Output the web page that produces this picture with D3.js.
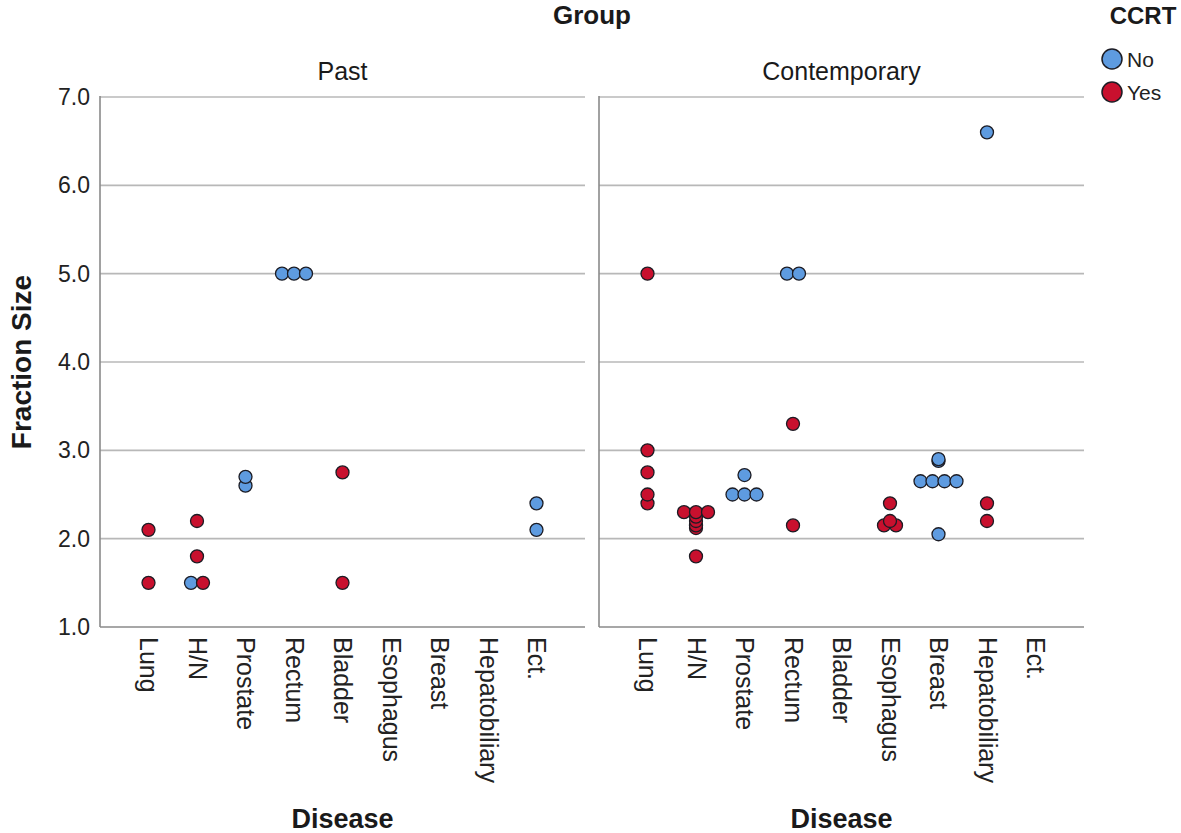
<!DOCTYPE html>
<html>
<head>
<meta charset="utf-8">
<script src="https://cdn.jsdelivr.net/npm/d3@7"></script>
<style>
  html, body { margin: 0; padding: 0; background: #fff; }
  svg { display: block; font-family: "Liberation Sans", Arial, sans-serif; }
</style>
</head>
<body>
<svg id="chart" width="1181" height="833"></svg>
<script>
// ---------------- data ----------------
const diseases = ["Lung", "H/N", "Prostate", "Rectum", "Bladder", "Esophagus", "Breast", "Hepatobiliary", "Ect."];
const groups = ["Past", "Contemporary"];
const ccrtLevels = ["No", "Yes"];
const yTicks = [1, 2, 3, 4, 5, 6, 7];

// [disease, fraction size]
const pastNo = [
  ["H/N", 1.5],
  ["Prostate", 2.7], ["Prostate", 2.6],
  ["Rectum", 5.0], ["Rectum", 5.0], ["Rectum", 5.0],
  ["Ect.", 2.4], ["Ect.", 2.1]
];
const pastYes = [
  ["Lung", 2.1], ["Lung", 1.5],
  ["H/N", 2.2], ["H/N", 1.8], ["H/N", 1.5],
  ["Bladder", 2.75], ["Bladder", 1.5]
];
const contNo = [
  ["Prostate", 2.72], ["Prostate", 2.5], ["Prostate", 2.5], ["Prostate", 2.5],
  ["Rectum", 5.0], ["Rectum", 5.0],
  ["Breast", 2.9], ["Breast", 2.88],
  ["Breast", 2.65], ["Breast", 2.65], ["Breast", 2.65], ["Breast", 2.65],
  ["Breast", 2.05],
  ["Hepatobiliary", 6.6]
];
const contYes = [
  ["Lung", 5.0], ["Lung", 3.0], ["Lung", 2.75], ["Lung", 2.5], ["Lung", 2.4],
  ["H/N", 2.3], ["H/N", 2.3], ["H/N", 2.3],
  ["H/N", 2.25], ["H/N", 2.2], ["H/N", 2.15], ["H/N", 2.12],
  ["H/N", 1.8],
  ["Rectum", 3.3], ["Rectum", 2.15],
  ["Esophagus", 2.4], ["Esophagus", 2.2], ["Esophagus", 2.15], ["Esophagus", 2.15],
  ["Hepatobiliary", 2.4], ["Hepatobiliary", 2.2]
];

const seriesByGroup = {
  "Past": { "No": pastNo, "Yes": pastYes },
  "Contemporary": { "No": contNo, "Yes": contYes }
};

// ---------------- styles / layout ----------------
const colors = { "No": "#5e9be0", "Yes": "#c8102e" };
const textColor = "#1a1a1a";
const panelRanges = { "Past": [100, 585], "Contemporary": [599, 1084] };
const plotTop = 97, plotBottom = 627;
const r = 6.5, dodgeStep = 12;

const svg = d3.select("#chart");
const y = d3.scaleLinear().domain([1, 7]).range([plotBottom, plotTop]);

// Super title
svg.append("text").attr("x", 592).attr("y", 24).attr("text-anchor", "middle")
  .attr("font-size", 26).attr("font-weight", "bold").attr("fill", textColor).text("Group");

// Y axis title
svg.append("text").attr("transform", `translate(31,${(plotTop + plotBottom) / 2}) rotate(-90)`)
  .attr("text-anchor", "middle").attr("font-size", 28).attr("font-weight", "bold")
  .attr("fill", textColor).text("Fraction Size");

groups.forEach((g, gi) => {
  const [x0, x1] = panelRanges[g];
  const x = d3.scalePoint().domain(diseases).range([x0, x1]).padding(1);
  const panel = svg.append("g");

  // Panel title
  panel.append("text").attr("x", (x0 + x1) / 2).attr("y", 80).attr("text-anchor", "middle")
    .attr("font-size", 25).attr("fill", textColor).text(g);

  // Gridlines
  panel.append("g").selectAll("line").data(yTicks.filter(t => t > 1)).join("line")
    .attr("x1", x0).attr("x2", x1)
    .attr("y1", d => y(d)).attr("y2", d => y(d))
    .attr("stroke", "#b8b8b8").attr("stroke-width", 1.6);

  // Axis lines
  panel.append("line").attr("x1", x0).attr("x2", x0).attr("y1", plotTop - 1).attr("y2", plotBottom)
    .attr("stroke", "#8a8a8a").attr("stroke-width", 1.6);
  panel.append("line").attr("x1", x0).attr("x2", x1).attr("y1", plotBottom).attr("y2", plotBottom)
    .attr("stroke", "#8a8a8a").attr("stroke-width", 1.6);

  // Y tick labels (left panel only)
  if (gi === 0) {
    const yAxis = d3.axisLeft(y).tickValues(yTicks).tickFormat(d3.format(".1f")).tickSize(0).tickPadding(10);
    const ya = panel.append("g").attr("transform", `translate(${x0},0)`).call(yAxis);
    ya.select(".domain").remove();
    ya.selectAll("text").attr("font-size", 23).attr("fill", "#222")
      .attr("font-family", "\"Liberation Sans\", Arial, sans-serif");
  }

  // X tick labels rotated
  const xAxis = d3.axisBottom(x).tickSize(0).tickPadding(0);
  const xa = panel.append("g").attr("transform", `translate(0,${plotBottom})`).call(xAxis);
  xa.select(".domain").remove();
  xa.selectAll("text")
    .attr("font-size", 25).attr("fill", "#222")
    .attr("font-family", "\"Liberation Sans\", Arial, sans-serif")
    .attr("text-anchor", "start")
    .attr("transform", "rotate(90)")
    .attr("x", 10).attr("y", 0).attr("dy", "0.35em");

  // X axis title
  panel.append("text").attr("x", (x0 + x1) / 2).attr("y", 828).attr("text-anchor", "middle")
    .attr("font-size", 27).attr("font-weight", "bold").attr("fill", textColor).text("Disease");

  // Points with horizontal dodge for identical values
  const pts = [];
  ccrtLevels.forEach(c => {
    seriesByGroup[g][c].forEach(([dz, v]) => pts.push({ disease: dz, value: v, ccrt: c }));
  });
  const bins = d3.group(pts, d => d.disease + "|" + d.value);
  bins.forEach(arr => {
    const n = arr.length;
    arr.forEach((d, i) => { d.offset = (i - (n - 1) / 2) * dodgeStep; });
  });
  const sorted = pts.slice().sort((a, b) => a.value - b.value);
  panel.append("g").selectAll("circle").data(sorted).join("circle")
    .attr("cx", d => x(d.disease) + d.offset)
    .attr("cy", d => y(d.value))
    .attr("r", r)
    .attr("fill", d => colors[d.ccrt])
    .attr("stroke", "#1c1c24").attr("stroke-width", 1.3);
});

// Legend
const legend = svg.append("g");
legend.append("text").attr("x", 1143).attr("y", 24).attr("text-anchor", "middle")
  .attr("font-size", 24).attr("font-weight", "bold").attr("fill", textColor).text("CCRT");
const legendY = d3.scalePoint().domain(ccrtLevels).range([59, 92]);
ccrtLevels.forEach(c => {
  legend.append("circle").attr("cx", 1112).attr("cy", legendY(c)).attr("r", 10)
    .attr("fill", colors[c]).attr("stroke", "#1c1c24").attr("stroke-width", 1.5);
  legend.append("text").attr("x", 1127).attr("y", legendY(c)).attr("dy", "0.36em")
    .attr("font-size", 21).attr("fill", "#222").text(c);
});
</script>
</body>
</html>
